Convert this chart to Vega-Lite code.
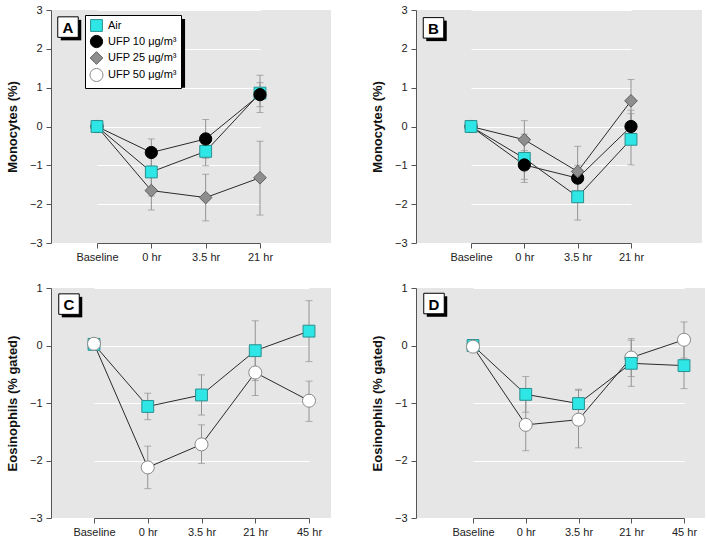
{
  "$schema": "https://vega.github.io/schema/vega-lite/v6.json",
  "padding": {"left": 6, "top": 4, "right": 0, "bottom": 0},
  "background": "#ffffff",
  "datasets": {
    "d": [
      {"panel": "A", "group": "UFP 10 μg/m³", "time": "Baseline", "y": 0, "lo": null, "hi": null},
      {"panel": "A", "group": "UFP 25 μg/m³", "time": "Baseline", "y": 0, "lo": null, "hi": null},
      {"panel": "A", "group": "Air", "time": "Baseline", "y": 0, "lo": null, "hi": null},
      {"panel": "A", "group": "UFP 25 μg/m³", "time": "0 hr", "y": -1.65, "lo": -2.15, "hi": -1.15},
      {"panel": "A", "group": "UFP 25 μg/m³", "time": "3.5 hr", "y": -1.83, "lo": -2.43, "hi": -1.23},
      {"panel": "A", "group": "UFP 25 μg/m³", "time": "21 hr", "y": -1.32, "lo": -2.28, "hi": -0.38},
      {"panel": "A", "group": "Air", "time": "0 hr", "y": -1.17, "lo": -1.79, "hi": -0.55},
      {"panel": "A", "group": "Air", "time": "3.5 hr", "y": -0.64, "lo": -1.01, "hi": -0.27},
      {"panel": "A", "group": "Air", "time": "21 hr", "y": 0.86, "lo": 0.36, "hi": 1.32},
      {"panel": "A", "group": "UFP 10 μg/m³", "time": "0 hr", "y": -0.67, "lo": -1.02, "hi": -0.32},
      {"panel": "A", "group": "UFP 10 μg/m³", "time": "3.5 hr", "y": -0.32, "lo": -0.82, "hi": 0.18},
      {"panel": "A", "group": "UFP 10 μg/m³", "time": "21 hr", "y": 0.82, "lo": 0.51, "hi": 1.13},

      {"panel": "B", "group": "UFP 10 μg/m³", "time": "Baseline", "y": 0, "lo": null, "hi": null},
      {"panel": "B", "group": "UFP 25 μg/m³", "time": "Baseline", "y": 0, "lo": null, "hi": null},
      {"panel": "B", "group": "Air", "time": "Baseline", "y": 0, "lo": null, "hi": null},
      {"panel": "B", "group": "Air", "time": "0 hr", "y": -0.82, "lo": -1.44, "hi": -0.2},
      {"panel": "B", "group": "Air", "time": "3.5 hr", "y": -1.81, "lo": -2.41, "hi": -1.21},
      {"panel": "B", "group": "Air", "time": "21 hr", "y": -0.33, "lo": -0.99, "hi": 0.33},
      {"panel": "B", "group": "UFP 10 μg/m³", "time": "0 hr", "y": -0.99, "lo": -1.36, "hi": -0.62},
      {"panel": "B", "group": "UFP 10 μg/m³", "time": "3.5 hr", "y": -1.33, "lo": -1.66, "hi": -1.0},
      {"panel": "B", "group": "UFP 10 μg/m³", "time": "21 hr", "y": 0.0, "lo": -0.42, "hi": 0.42},
      {"panel": "B", "group": "UFP 25 μg/m³", "time": "0 hr", "y": -0.34, "lo": -0.83, "hi": 0.15},
      {"panel": "B", "group": "UFP 25 μg/m³", "time": "3.5 hr", "y": -1.16, "lo": -1.81, "hi": -0.51},
      {"panel": "B", "group": "UFP 25 μg/m³", "time": "21 hr", "y": 0.66, "lo": 0.11, "hi": 1.21},

      {"panel": "C", "group": "Air", "time": "Baseline", "y": 0.02, "lo": null, "hi": null},
      {"panel": "C", "group": "UFP 50 μg/m³", "time": "Baseline", "y": 0.03, "lo": null, "hi": null},
      {"panel": "C", "group": "UFP 50 μg/m³", "time": "0 hr", "y": -2.12, "lo": -2.49, "hi": -1.75},
      {"panel": "C", "group": "UFP 50 μg/m³", "time": "3.5 hr", "y": -1.72, "lo": -2.05, "hi": -1.38},
      {"panel": "C", "group": "UFP 50 μg/m³", "time": "21 hr", "y": -0.47, "lo": -0.87, "hi": -0.07},
      {"panel": "C", "group": "UFP 50 μg/m³", "time": "45 hr", "y": -0.96, "lo": -1.32, "hi": -0.62},
      {"panel": "C", "group": "Air", "time": "0 hr", "y": -1.06, "lo": -1.29, "hi": -0.83},
      {"panel": "C", "group": "Air", "time": "3.5 hr", "y": -0.86, "lo": -1.21, "hi": -0.51},
      {"panel": "C", "group": "Air", "time": "21 hr", "y": -0.09, "lo": -0.61, "hi": 0.43},
      {"panel": "C", "group": "Air", "time": "45 hr", "y": 0.25, "lo": -0.28, "hi": 0.78},

      {"panel": "D", "group": "Air", "time": "Baseline", "y": 0.0, "lo": null, "hi": null},
      {"panel": "D", "group": "UFP 50 μg/m³", "time": "Baseline", "y": -0.02, "lo": null, "hi": null},
      {"panel": "D", "group": "UFP 50 μg/m³", "time": "0 hr", "y": -1.38, "lo": -1.83, "hi": -0.92},
      {"panel": "D", "group": "UFP 50 μg/m³", "time": "3.5 hr", "y": -1.29, "lo": -1.78, "hi": -0.78},
      {"panel": "D", "group": "UFP 50 μg/m³", "time": "21 hr", "y": -0.21, "lo": -0.54, "hi": 0.12},
      {"panel": "D", "group": "UFP 50 μg/m³", "time": "45 hr", "y": 0.1, "lo": -0.22, "hi": 0.41},
      {"panel": "D", "group": "Air", "time": "0 hr", "y": -0.85, "lo": -1.16, "hi": -0.54},
      {"panel": "D", "group": "Air", "time": "3.5 hr", "y": -1.01, "lo": -1.26, "hi": -0.76},
      {"panel": "D", "group": "Air", "time": "21 hr", "y": -0.31, "lo": -0.71, "hi": 0.09},
      {"panel": "D", "group": "Air", "time": "45 hr", "y": -0.35, "lo": -0.75, "hi": 0.05}
    ]
  },
  "data": {"name": "d"},
  "columns": 2,
  "spacing": {"row": 20, "column": 40},
  "resolve": {
    "scale": {"x": "independent", "y": "independent", "fill": "independent", "stroke": "independent", "shape": "independent", "size": "independent"},
    "legend": {"fill": "independent", "stroke": "independent", "shape": "independent", "size": "independent"}
  },
  "concat": [
    {
      "width": 280, "height": 233,
      "transform": [{"filter": "datum.panel === 'A'"}],
      "layer": [
        {
          "data": {"values": [{"label": "shadow"}]},
          "mark": {"type": "rect", "fill": "#000000", "opacity": 1, "xOffset": -8, "x2Offset": 33.7},
          "encoding": {
            "x": {"datum": "Baseline", "type": "ordinal", "scale": {"type": "point", "domain": ["Baseline", "0 hr", "3.5 hr", "21 hr"], "range": [46, 209], "padding": 0}, "axis": {"title": null}},
            "x2": {"datum": "0 hr"},
            "y": {"datum": 2.768, "type": "quantitative", "scale": {"domain": [-3, 3]}, "title": "Monocytes (%)", "axis": {"values": [-3, -2, -1, 0, 1, 2, 3], "format": "d", "tickCount": 10}},
            "y2": {"datum": 1.0}
          }
        },
        {
          "transform": [{"filter": "isValid(datum.lo)"}],
          "mark": {"type": "errorbar", "ticks": true, "size": 7, "thickness": 1, "color": "#929292"},
          "encoding": {
            "x": {"field": "time", "type": "ordinal"},
            "y": {"field": "lo", "type": "quantitative", "title": "Monocytes (%)"},
            "y2": {"field": "hi"}
          }
        },
        {
          "mark": {"type": "line", "color": "#2a2a2a", "strokeWidth": 1},
          "encoding": {
            "x": {"field": "time", "type": "ordinal"},
            "y": {"field": "y", "type": "quantitative", "title": "Monocytes (%)"},
            "detail": {"field": "group"}
          }
        },
        {
          "mark": {"type": "point", "filled": true, "opacity": 1, "strokeWidth": 1},
          "encoding": {
            "x": {"field": "time", "type": "ordinal"},
            "y": {"field": "y", "type": "quantitative", "title": "Monocytes (%)"},
            "shape": {"field": "group", "type": "nominal", "scale": {"domain": ["Air", "UFP 10 μg/m³", "UFP 25 μg/m³", "UFP 50 μg/m³"], "range": ["square", "circle", "diamond", "circle"]}, "legend": {"orient": "none", "legendX": 34, "legendY": 5, "title": null}},
            "fill": {"field": "group", "type": "nominal", "scale": {"domain": ["Air", "UFP 10 μg/m³", "UFP 25 μg/m³", "UFP 50 μg/m³"], "range": ["#2ee6e6", "#000000", "#8e8e8e", "#ffffff"]}, "legend": {"orient": "none", "legendX": 34, "legendY": 5, "title": null}},
            "stroke": {"field": "group", "type": "nominal", "scale": {"domain": ["Air", "UFP 10 μg/m³", "UFP 25 μg/m³", "UFP 50 μg/m³"], "range": ["#2a8f8f", "#000000", "#5e5e5e", "#8a8a8a"]}, "legend": {"orient": "none", "legendX": 34, "legendY": 5, "title": null}},
            "size": {"field": "group", "type": "nominal", "scale": {"domain": ["Air", "UFP 10 μg/m³", "UFP 25 μg/m³", "UFP 50 μg/m³"], "range": [140, 170, 270, 170]}, "legend": {"orient": "none", "legendX": 34, "legendY": 5, "title": null}}
          }
        },
        {
          "data": {"values": [{"label": "A"}]},
          "mark": {"type": "square", "size": 420, "fill": "#000000", "opacity": 1, "xOffset": -26, "yOffset": 3},
          "encoding": {"x": {"datum": "Baseline", "type": "ordinal"}, "y": {"datum": 2.56, "type": "quantitative"}}
        },
        {
          "data": {"values": [{"label": "A"}]},
          "mark": {"type": "square", "size": 420, "fill": "#ffffff", "stroke": "#000000", "strokeWidth": 1, "opacity": 1, "xOffset": -29},
          "encoding": {"x": {"datum": "Baseline", "type": "ordinal"}, "y": {"datum": 2.56, "type": "quantitative"}}
        },
        {
          "data": {"values": [{"label": "A"}]},
          "mark": {"type": "text", "fontSize": 15, "fontWeight": "bold", "color": "#000", "xOffset": -29, "yOffset": 1, "baseline": "middle", "align": "center"},
          "encoding": {"x": {"datum": "Baseline", "type": "ordinal"}, "y": {"datum": 2.56, "type": "quantitative"}, "text": {"field": "label"}}
        }
      ]
    },
    {
      "width": 286, "height": 233,
      "transform": [{"filter": "datum.panel === 'B'"}],
      "layer": [
        {
          "transform": [{"filter": "isValid(datum.lo)"}],
          "mark": {"type": "errorbar", "ticks": true, "size": 7, "thickness": 1, "color": "#929292"},
          "encoding": {
            "x": {"field": "time", "type": "ordinal", "scale": {"type": "point", "domain": ["Baseline", "0 hr", "3.5 hr", "21 hr"], "range": [55, 215], "padding": 0}, "axis": {"title": null}},
            "y": {"field": "lo", "type": "quantitative", "scale": {"domain": [-3, 3]}, "title": "Monocytes (%)", "axis": {"values": [-3, -2, -1, 0, 1, 2, 3], "format": "d", "tickCount": 10}},
            "y2": {"field": "hi"}
          }
        },
        {
          "mark": {"type": "line", "color": "#2a2a2a", "strokeWidth": 1},
          "encoding": {
            "x": {"field": "time", "type": "ordinal"},
            "y": {"field": "y", "type": "quantitative", "title": "Monocytes (%)"},
            "detail": {"field": "group"}
          }
        },
        {
          "mark": {"type": "point", "filled": true, "opacity": 1, "strokeWidth": 1},
          "encoding": {
            "x": {"field": "time", "type": "ordinal"},
            "y": {"field": "y", "type": "quantitative", "title": "Monocytes (%)"},
            "shape": {"field": "group", "type": "nominal", "scale": {"domain": ["Air", "UFP 10 μg/m³", "UFP 25 μg/m³", "UFP 50 μg/m³"], "range": ["square", "circle", "diamond", "circle"]}, "legend": null},
            "fill": {"field": "group", "type": "nominal", "scale": {"domain": ["Air", "UFP 10 μg/m³", "UFP 25 μg/m³", "UFP 50 μg/m³"], "range": ["#2ee6e6", "#000000", "#8e8e8e", "#ffffff"]}, "legend": null},
            "stroke": {"field": "group", "type": "nominal", "scale": {"domain": ["Air", "UFP 10 μg/m³", "UFP 25 μg/m³", "UFP 50 μg/m³"], "range": ["#2a8f8f", "#000000", "#5e5e5e", "#8a8a8a"]}, "legend": null},
            "size": {"field": "group", "type": "nominal", "scale": {"domain": ["Air", "UFP 10 μg/m³", "UFP 25 μg/m³", "UFP 50 μg/m³"], "range": [140, 170, 270, 170]}, "legend": null}
          }
        },
        {
          "data": {"values": [{"label": "B"}]},
          "mark": {"type": "square", "size": 420, "fill": "#000000", "opacity": 1, "xOffset": -34.5, "yOffset": 3},
          "encoding": {"x": {"datum": "Baseline", "type": "ordinal"}, "y": {"datum": 2.54, "type": "quantitative"}}
        },
        {
          "data": {"values": [{"label": "B"}]},
          "mark": {"type": "square", "size": 420, "fill": "#ffffff", "stroke": "#000000", "strokeWidth": 1, "opacity": 1, "xOffset": -37.5},
          "encoding": {"x": {"datum": "Baseline", "type": "ordinal"}, "y": {"datum": 2.54, "type": "quantitative"}}
        },
        {
          "data": {"values": [{"label": "B"}]},
          "mark": {"type": "text", "fontSize": 15, "fontWeight": "bold", "color": "#000", "xOffset": -37.5, "yOffset": 1, "baseline": "middle", "align": "center"},
          "encoding": {"x": {"datum": "Baseline", "type": "ordinal"}, "y": {"datum": 2.54, "type": "quantitative"}, "text": {"field": "label"}}
        }
      ]
    },
    {
      "width": 280, "height": 230,
      "transform": [{"filter": "datum.panel === 'C'"}],
      "layer": [
        {
          "transform": [{"filter": "isValid(datum.lo)"}],
          "mark": {"type": "errorbar", "ticks": true, "size": 7, "thickness": 1, "color": "#929292"},
          "encoding": {
            "x": {"field": "time", "type": "ordinal", "scale": {"type": "point", "domain": ["Baseline", "0 hr", "3.5 hr", "21 hr", "45 hr"], "range": [43, 258], "padding": 0}, "axis": {"title": null}},
            "y": {"field": "lo", "type": "quantitative", "scale": {"domain": [-3, 1]}, "title": "Eosinophils (% gated)", "axis": {"values": [-3, -2, -1, 0, 1], "format": "d", "tickCount": 10}},
            "y2": {"field": "hi"}
          }
        },
        {
          "mark": {"type": "line", "color": "#2a2a2a", "strokeWidth": 1},
          "encoding": {
            "x": {"field": "time", "type": "ordinal"},
            "y": {"field": "y", "type": "quantitative", "title": "Eosinophils (% gated)"},
            "detail": {"field": "group"}
          }
        },
        {
          "mark": {"type": "point", "filled": true, "opacity": 1, "strokeWidth": 1},
          "encoding": {
            "x": {"field": "time", "type": "ordinal"},
            "y": {"field": "y", "type": "quantitative", "title": "Eosinophils (% gated)"},
            "shape": {"field": "group", "type": "nominal", "scale": {"domain": ["Air", "UFP 10 μg/m³", "UFP 25 μg/m³", "UFP 50 μg/m³"], "range": ["square", "circle", "diamond", "circle"]}, "legend": null},
            "fill": {"field": "group", "type": "nominal", "scale": {"domain": ["Air", "UFP 10 μg/m³", "UFP 25 μg/m³", "UFP 50 μg/m³"], "range": ["#2ee6e6", "#000000", "#8e8e8e", "#ffffff"]}, "legend": null},
            "stroke": {"field": "group", "type": "nominal", "scale": {"domain": ["Air", "UFP 10 μg/m³", "UFP 25 μg/m³", "UFP 50 μg/m³"], "range": ["#2a8f8f", "#000000", "#5e5e5e", "#8a8a8a"]}, "legend": null},
            "size": {"field": "group", "type": "nominal", "scale": {"domain": ["Air", "UFP 10 μg/m³", "UFP 25 μg/m³", "UFP 50 μg/m³"], "range": [140, 170, 270, 170]}, "legend": null}
          }
        },
        {
          "data": {"values": [{"label": "C"}]},
          "mark": {"type": "square", "size": 420, "fill": "#000000", "opacity": 1, "xOffset": -22, "yOffset": 3},
          "encoding": {"x": {"datum": "Baseline", "type": "ordinal"}, "y": {"datum": 0.72, "type": "quantitative"}}
        },
        {
          "data": {"values": [{"label": "C"}]},
          "mark": {"type": "square", "size": 420, "fill": "#ffffff", "stroke": "#000000", "strokeWidth": 1, "opacity": 1, "xOffset": -25},
          "encoding": {"x": {"datum": "Baseline", "type": "ordinal"}, "y": {"datum": 0.72, "type": "quantitative"}}
        },
        {
          "data": {"values": [{"label": "C"}]},
          "mark": {"type": "text", "fontSize": 15, "fontWeight": "bold", "color": "#000", "xOffset": -25, "yOffset": 1, "baseline": "middle", "align": "center"},
          "encoding": {"x": {"datum": "Baseline", "type": "ordinal"}, "y": {"datum": 0.72, "type": "quantitative"}, "text": {"field": "label"}}
        }
      ]
    },
    {
      "width": 289, "height": 230,
      "transform": [{"filter": "datum.panel === 'D'"}],
      "layer": [
        {
          "transform": [{"filter": "isValid(datum.lo)"}],
          "mark": {"type": "errorbar", "ticks": true, "size": 7, "thickness": 1, "color": "#929292"},
          "encoding": {
            "x": {"field": "time", "type": "ordinal", "scale": {"type": "point", "domain": ["Baseline", "0 hr", "3.5 hr", "21 hr", "45 hr"], "range": [57, 268], "padding": 0}, "axis": {"title": null}},
            "y": {"field": "lo", "type": "quantitative", "scale": {"domain": [-3, 1]}, "title": "Eosinophils (% gated)", "axis": {"values": [-3, -2, -1, 0, 1], "format": "d", "tickCount": 10}},
            "y2": {"field": "hi"}
          }
        },
        {
          "mark": {"type": "line", "color": "#2a2a2a", "strokeWidth": 1},
          "encoding": {
            "x": {"field": "time", "type": "ordinal"},
            "y": {"field": "y", "type": "quantitative", "title": "Eosinophils (% gated)"},
            "detail": {"field": "group"}
          }
        },
        {
          "mark": {"type": "point", "filled": true, "opacity": 1, "strokeWidth": 1},
          "encoding": {
            "x": {"field": "time", "type": "ordinal"},
            "y": {"field": "y", "type": "quantitative", "title": "Eosinophils (% gated)"},
            "shape": {"field": "group", "type": "nominal", "scale": {"domain": ["Air", "UFP 10 μg/m³", "UFP 25 μg/m³", "UFP 50 μg/m³"], "range": ["square", "circle", "diamond", "circle"]}, "legend": null},
            "fill": {"field": "group", "type": "nominal", "scale": {"domain": ["Air", "UFP 10 μg/m³", "UFP 25 μg/m³", "UFP 50 μg/m³"], "range": ["#2ee6e6", "#000000", "#8e8e8e", "#ffffff"]}, "legend": null},
            "stroke": {"field": "group", "type": "nominal", "scale": {"domain": ["Air", "UFP 10 μg/m³", "UFP 25 μg/m³", "UFP 50 μg/m³"], "range": ["#2a8f8f", "#000000", "#5e5e5e", "#8a8a8a"]}, "legend": null},
            "size": {"field": "group", "type": "nominal", "scale": {"domain": ["Air", "UFP 10 μg/m³", "UFP 25 μg/m³", "UFP 50 μg/m³"], "range": [140, 170, 270, 170]}, "legend": null}
          }
        },
        {
          "data": {"values": [{"label": "D"}]},
          "mark": {"type": "square", "size": 420, "fill": "#000000", "opacity": 1, "xOffset": -36, "yOffset": 3},
          "encoding": {"x": {"datum": "Baseline", "type": "ordinal"}, "y": {"datum": 0.73, "type": "quantitative"}}
        },
        {
          "data": {"values": [{"label": "D"}]},
          "mark": {"type": "square", "size": 420, "fill": "#ffffff", "stroke": "#000000", "strokeWidth": 1, "opacity": 1, "xOffset": -39},
          "encoding": {"x": {"datum": "Baseline", "type": "ordinal"}, "y": {"datum": 0.73, "type": "quantitative"}}
        },
        {
          "data": {"values": [{"label": "D"}]},
          "mark": {"type": "text", "fontSize": 15, "fontWeight": "bold", "color": "#000", "xOffset": -39, "yOffset": 1, "baseline": "middle", "align": "center"},
          "encoding": {"x": {"datum": "Baseline", "type": "ordinal"}, "y": {"datum": 0.73, "type": "quantitative"}, "text": {"field": "label"}}
        }
      ]
    }
  ],
  "config": {
    "font": "'Liberation Sans', Arial, sans-serif",
    "view": {"fill": "#e6e6e6", "stroke": null},
    "axis": {
      "domainColor": "#555555", "tickColor": "#555555", "labelColor": "#222222",
      "labelFontSize": 11, "titleFontSize": 13, "titleFontWeight": "bold", "titleColor": "#111111",
      "tickSize": 5, "gridColor": "#ffffff", "gridWidth": 1.2, "gridOpacity": 1
    },
    "axisX": {"grid": false, "labelAngle": 0, "labelPadding": 3},
    "axisY": {"grid": true, "labelPadding": 4, "titlePadding": 10, "tickCount": 10},
    "legend": {
      "fillColor": "#ffffff", "strokeColor": "#000000", "padding": 4, "labelFontSize": 11,
      "labelColor": "#000000", "rowPadding": -1.5, "symbolStrokeWidth": 1, "labelOffset": 4
    }
  }
}
